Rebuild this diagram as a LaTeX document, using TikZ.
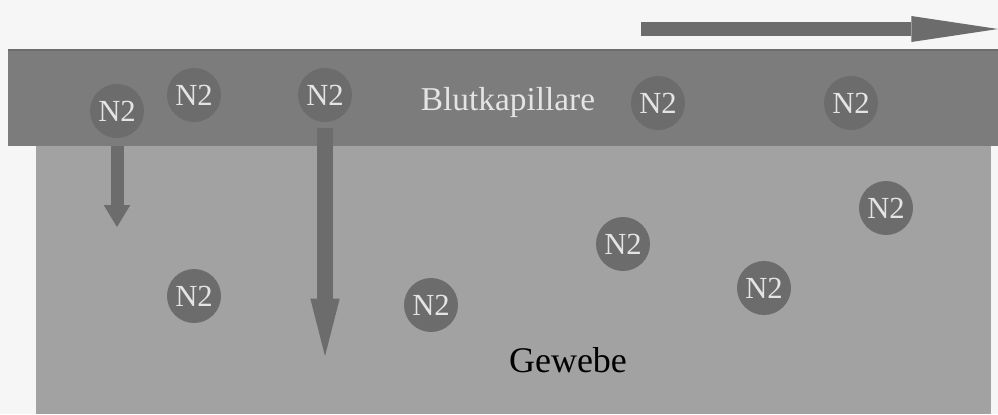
\documentclass[tikz,border=0pt]{standalone}
\usepackage{fontspec}
\setmainfont{Liberation Serif}
\usetikzlibrary{arrows.meta}
\definecolor{Hintergrund}{RGB}{246, 246, 246}
\definecolor{Kapillare}{RGB}{124, 124, 124}
\definecolor{Gewebe}{RGB}{162, 162, 162}
\definecolor{Molekuel}{RGB}{108, 108, 108}
\definecolor{Schrift}{RGB}{228, 228, 228}

\begin{document}
\begin{tikzpicture}[x=0.75pt, y=-0.75pt,
		gas/.style={circle, fill=Molekuel, minimum size=40.5pt, inner sep=0pt, text=Schrift, font=\fontsize{23}{23}\selectfont},
		pfeil/.style={draw=Molekuel, line width=#1}]
		\useasboundingbox (0, 0) rectangle (998, 414);
		\fill[Hintergrund] (0, 0) rectangle (998, 414);
		\fill[Kapillare] (8, 50) rectangle (998, 146);
		\draw[Molekuel, line width=1pt] (8, 50) -- (998, 50);
		\fill[Gewebe] (36, 146) rectangle (991, 414);
		\foreach \name/\x/\y in {a/117/111, b/194/95, c/325/95, d/658/103, e/851/103, f/886/208, g/623/244, h/194/296, i/431/305, j/764/288}{
			\node[gas] (\name) at (\x, \y) {N2};
		}
		\node[anchor=base, text=Schrift, font=\fontsize{25}{25}\selectfont] (kapillare) at (508, 110) {Blutkapillare};
		\node[anchor=base, font=\fontsize{27}{27}\selectfont] (gewebe) at (568, 372) {Gewebe};
		\coordinate (a unten) at (117, 227);
		\coordinate (c unten) at (325, 356);
		\coordinate (fluss start) at (641, 29);
		\coordinate (fluss ende) at (998, 29);
		\draw[pfeil=9.75pt, -{Triangle[length=16.5pt, width=20pt, line width=0pt]}, shorten <=6pt] (a.south) -- (a unten);
		\draw[pfeil=12pt, -{Triangle[length=43pt, width=22pt, line width=0pt]}, shorten <=4.5pt] (c.south) -- (c unten);
		\draw[pfeil=10.5pt, -{Triangle[length=65pt, width=19.5pt, line width=0pt]}] (fluss start) -- (fluss ende);
	\end{tikzpicture}
\end{document}
